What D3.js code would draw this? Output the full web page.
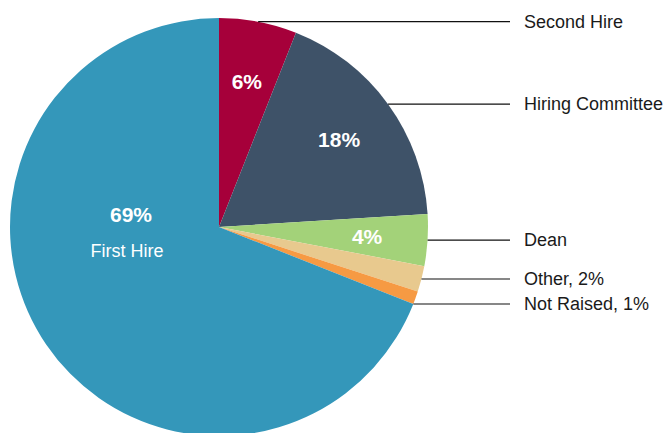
<!DOCTYPE html>
<html>
<head>
<meta charset="utf-8">
<script src="https://cdn.jsdelivr.net/npm/d3@7"></script>
<style>
	body { margin: 0; background: #fff; }
	text { font-family: "Liberation Sans", Arial, Helvetica, sans-serif; }
</style>
</head>
<body>
<svg id="chart" width="670" height="433"></svg>
<script>
'use strict';

var categories = ["Second Hire", "Hiring Committee", "Dean", "Other", "Not Raised", "First Hire"];
var shares = [6, 18, 4, 2, 1, 69];
var sliceColors = ["#a6003a", "#3e5268", "#a3d279", "#e8c98e", "#f69a43", "#3497ba"];
// how each slice is labelled: "inside" = percent on slice + name outside,
// "outside" = "name, n%" outside, "big" = percent and name on the slice
var labelModes = ["inside", "inside", "inside", "outside", "outside", "big"];

var CX = 219;
var CY = 227;
var RADIUS = 209;
var LABEL_X = 524;
var LINE_END = 510;
var MIN_GAP = 25;

var svg = d3.select("#chart");

var pie = d3.pie()
	.sort(null)
	.value(function (d) { return d.value; });

var data = categories.map(function (c, i) {
	return { name: c, value: shares[i], color: sliceColors[i], mode: labelModes[i] };
});

var arcs = pie(data);

var arc = d3.arc()
	.innerRadius(0)
	.outerRadius(RADIUS);

var innerArc = d3.arc()
	.innerRadius(RADIUS * 0.71)
	.outerRadius(RADIUS * 0.71);

var g = svg.append("g")
	.attr("transform", "translate(" + CX + "," + CY + ")");

g.selectAll("path.slice")
	.data(arcs)
	.enter()
	.append("path")
	.classed("slice", 1)
	.attr("d", arc)
	.style("fill", function (d) { return d.data.color; });

// percent labels on the slices
g.selectAll("text.pct")
	.data(arcs.filter(function (d) { return d.data.mode === "inside"; }))
	.enter()
	.append("text")
	.classed("pct", 1)
	.attr("x", function (d) { return innerArc.centroid(d)[0]; })
	.attr("y", function (d) { return innerArc.centroid(d)[1]; })
	.attr("dy", "0.35em")
	.attr("text-anchor", "middle")
	.style("fill", "#fff")
	.style("font-weight", "bold")
	.style("font-size", "21px")
	.text(function (d) { return d.data.value + "%"; });

// the big slice gets its label to the left of centre
var big = arcs.filter(function (d) { return d.data.mode === "big"; })[0];

g.append("text")
	.attr("x", -88)
	.attr("y", -12)
	.attr("dy", "0.35em")
	.attr("text-anchor", "middle")
	.style("fill", "#fff")
	.style("font-weight", "bold")
	.style("font-size", "21px")
	.text(big.data.value + "%");

g.append("text")
	.attr("x", -92)
	.attr("y", 24)
	.attr("dy", "0.35em")
	.attr("text-anchor", "middle")
	.style("fill", "#fff")
	.style("font-size", "18px")
	.text(big.data.name);

// outside labels with horizontal leader lines
var outside = arcs.filter(function (d) { return d.data.mode !== "big"; });

outside.forEach(function (d, i) {
	var mid = (d.startAngle + d.endAngle) / 2;
	d.labelY = -Math.cos(mid) * RADIUS;
	// push crowded labels down
	if (i > 0 && d.labelY - outside[i - 1].labelY < MIN_GAP) {
		d.labelY = outside[i - 1].labelY + MIN_GAP;
	}
	var y = Math.max(-RADIUS + 1, Math.min(RADIUS - 1, d.labelY));
	d.lineStart = Math.sqrt(RADIUS * RADIUS - y * y);
});

g.selectAll("line.leader")
	.data(outside)
	.enter()
	.append("line")
	.classed("leader", 1)
	.attr("x1", function (d) { return d.lineStart; })
	.attr("x2", LINE_END - CX)
	.attr("y1", function (d) { return d.labelY; })
	.attr("y2", function (d) { return d.labelY; })
	.style("stroke", "#111")
	.style("stroke-width", 1.2);

g.selectAll("text.name")
	.data(outside)
	.enter()
	.append("text")
	.classed("name", 1)
	.attr("x", LABEL_X - CX)
	.attr("y", function (d) { return d.labelY; })
	.attr("dy", "0.35em")
	.style("fill", "#1a1a1a")
	.style("font-size", "18px")
	.text(function (d) {
		return d.data.mode === "outside" ? d.data.name + ", " + d.data.value + "%" : d.data.name;
	});
</script>
</body>
</html>
